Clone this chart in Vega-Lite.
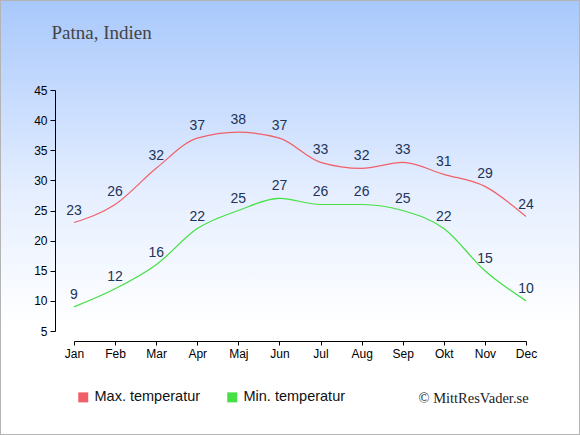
{
  "$schema": "https://vega.github.io/schema/vega-lite/v6.json",
  "width": 580,
  "height": 435,
  "autosize": {"type": "none"},
  "padding": 0,
  "background": "white",
  "view": {
    "fill": {
      "gradient": "linear",
      "x1": 0, "y1": 0, "x2": 0, "y2": 1,
      "stops": [
        {"offset": 0, "color": "#a8c8fc"},
        {"offset": 0.45, "color": "#e6efff"},
        {"offset": 0.75, "color": "#ffffff"},
        {"offset": 1, "color": "#ffffff"}
      ]
    },
    "stroke": "#b4b4b4",
    "strokeWidth": 2
  },
  "data": {
    "values": [
      {"month": "Jan", "serie": "Max. temperatur", "temp": 23},
      {"month": "Feb", "serie": "Max. temperatur", "temp": 26},
      {"month": "Mar", "serie": "Max. temperatur", "temp": 32},
      {"month": "Apr", "serie": "Max. temperatur", "temp": 37},
      {"month": "Maj", "serie": "Max. temperatur", "temp": 38},
      {"month": "Jun", "serie": "Max. temperatur", "temp": 37},
      {"month": "Jul", "serie": "Max. temperatur", "temp": 33},
      {"month": "Aug", "serie": "Max. temperatur", "temp": 32},
      {"month": "Sep", "serie": "Max. temperatur", "temp": 33},
      {"month": "Okt", "serie": "Max. temperatur", "temp": 31},
      {"month": "Nov", "serie": "Max. temperatur", "temp": 29},
      {"month": "Dec", "serie": "Max. temperatur", "temp": 24},
      {"month": "Jan", "serie": "Min. temperatur", "temp": 9},
      {"month": "Feb", "serie": "Min. temperatur", "temp": 12},
      {"month": "Mar", "serie": "Min. temperatur", "temp": 16},
      {"month": "Apr", "serie": "Min. temperatur", "temp": 22},
      {"month": "Maj", "serie": "Min. temperatur", "temp": 25},
      {"month": "Jun", "serie": "Min. temperatur", "temp": 27},
      {"month": "Jul", "serie": "Min. temperatur", "temp": 26},
      {"month": "Aug", "serie": "Min. temperatur", "temp": 26},
      {"month": "Sep", "serie": "Min. temperatur", "temp": 25},
      {"month": "Okt", "serie": "Min. temperatur", "temp": 22},
      {"month": "Nov", "serie": "Min. temperatur", "temp": 15},
      {"month": "Dec", "serie": "Min. temperatur", "temp": 10}
    ]
  },
  "encoding": {
    "x": {
      "field": "month",
      "type": "ordinal",
      "sort": ["Jan", "Feb", "Mar", "Apr", "Maj", "Jun", "Jul", "Aug", "Sep", "Okt", "Nov", "Dec"],
      "scale": {"type": "point", "range": [74, 526], "padding": 0},
      "axis": {
        "orient": "bottom",
        "offset": -94,
        "labelAngle": 0,
        "labelFont": "Liberation Sans",
        "labelFontSize": 12,
        "labelColor": "#000000",
        "labelPadding": 3,
        "tickSize": 4,
        "tickColor": "#000000",
        "domainColor": "#000000",
        "grid": false,
        "title": "© MittResVader.se",
        "titleFont": "Liberation Serif",
        "titleFontSize": 14.5,
        "titleFontWeight": "normal",
        "titleColor": "#222222",
        "titleAlign": "left",
        "titleBaseline": "alphabetic",
        "titleX": 418,
        "titleY": 61
      }
    },
    "y": {
      "field": "temp",
      "type": "quantitative",
      "scale": {"domain": [5, 45], "range": [331, 90], "nice": false, "zero": false},
      "axis": {
        "orient": "left",
        "offset": -55,
        "values": [5, 10, 15, 20, 25, 30, 35, 40, 45],
        "labelFont": "Liberation Sans",
        "labelFontSize": 12,
        "labelColor": "#000000",
        "labelPadding": 3,
        "tickSize": 5,
        "tickColor": "#000000",
        "domainColor": "#000000",
        "grid": false,
        "title": "Patna, Indien",
        "titleFont": "Liberation Serif",
        "titleFontSize": 19,
        "titleFontWeight": "normal",
        "titleColor": "#444444",
        "titleAngle": 0,
        "titleAlign": "left",
        "titleBaseline": "alphabetic",
        "titleX": -4,
        "titleY": 38
      }
    }
  },
  "layer": [
    {
      "mark": {"type": "line", "interpolate": "monotone", "strokeWidth": 1.2},
      "encoding": {
        "color": {
          "field": "serie",
          "type": "nominal",
          "scale": {"domain": ["Max. temperatur", "Min. temperatur"], "range": ["#f06068", "#44e044"]},
          "legend": {
            "orient": "none",
            "legendX": 76,
            "legendY": 390,
            "direction": "horizontal",
            "title": null,
            "symbolType": "square",
            "symbolSize": 100,
            "symbolStrokeWidth": 0,
            "labelFont": "Liberation Sans",
            "labelFontSize": 14.5,
            "labelColor": "#111111",
            "labelOffset": 4,
            "columnPadding": 24,
            "encode": {
              "symbols": {
                "update": {
                  "fill": {"scale": "color", "field": "value"},
                  "strokeWidth": {"value": 0},
                  "opacity": {"value": 1}
                }
              }
            }
          }
        }
      }
    },
    {
      "mark": {
        "type": "text",
        "font": "Liberation Sans",
        "fontSize": 14,
        "color": "#22335a",
        "baseline": "alphabetic",
        "dy": -8
      },
      "encoding": {
        "text": {"field": "temp", "type": "quantitative"}
      }
    }
  ]
}
